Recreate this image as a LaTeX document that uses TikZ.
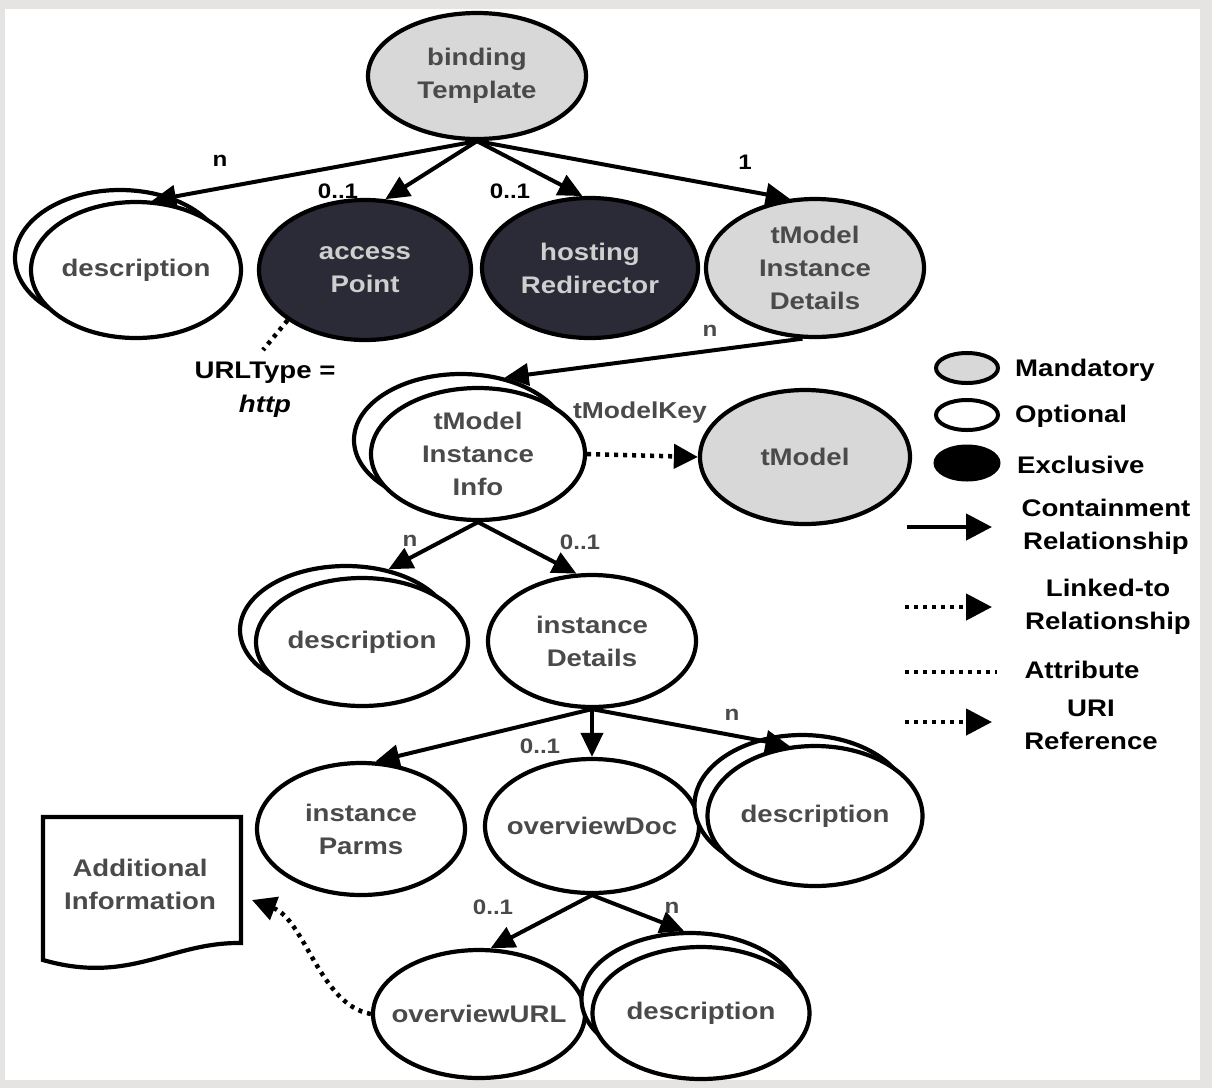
\documentclass[tikz,border=0pt]{standalone}
\usepackage{fontspec}
\setmainfont{Liberation Sans}[FakeStretch=1.15]
\usetikzlibrary{shapes.geometric,arrows.meta}
\definecolor{framegray}{HTML}{E6E4E2}
\definecolor{mandfill}{HTML}{D8D8D8}
\definecolor{exclfill}{HTML}{2B2B37}
\definecolor{txtgray}{HTML}{4A4A4A}
\definecolor{txtlight}{HTML}{CFCFCF}
\begin{document}
\begin{tikzpicture}[x=1pt,y=-1pt,
  el/.style={ellipse, draw=black, line width=4.2pt, inner xsep=-25pt, inner ysep=-5pt, align=center,
    font=\fontsize{24}{33}\selectfont\bfseries, text=txtgray},
  mand/.style={el, fill=mandfill},
  opt/.style={el, fill=white},
  excl/.style={el, fill=exclfill, text=txtlight},
  sz/.style 2 args={minimum width=#1pt, minimum height=#2pt},
  cont/.style={line width=4pt, -{Triangle[length=24pt,width=22pt]}},
  dotline/.style={line width=4.5pt, dash pattern=on 4pt off 5pt},
  link/.style={dotline, -{Triangle[length=24pt,width=24pt]}},
  lab/.style={font=\fontsize{21}{24}\selectfont\bfseries, text=black, inner sep=1pt},
  txt/.style={align=center, font=\fontsize{24}{33}\selectfont\bfseries, text=txtgray},
  leg/.style={align=center, font=\fontsize{24}{33}\selectfont\bfseries, text=black, inner sep=0pt}
]
% frame and canvas
\fill[framegray] (0,0) rectangle (1212,1088);
\fill[white] (5,9) rectangle (1200,1080);

% top level
\node[mand, sz={218}{126}] (bt) at (477,76) {binding\\Template};
\node[opt, sz={210}{136}] (d1b) at (120,258) {};
\node[opt, sz={210}{136}] (d1) at (136,270) {description};
\node[excl, sz={212}{140}] (ap) at (365,270) {access\\Point};
\node[excl, sz={216}{140}] (hr) at (590,268) {hosting\\Redirector};
\node[mand, sz={218}{138}] (tid) at (815,268) {tModel\\Instance\\Details};

% second level
\node[opt, sz={214}{132}] (tiib) at (461,440) {};
\node[opt, sz={214}{132}] (tii) at (478,454) {tModel\\Instance\\Info};
\node[mand, sz={210}{134}] (tm) at (805,457) {tModel};

% third level
\node[opt, sz={212}{128}] (d2b) at (346,630) {};
\node[opt, sz={212}{128}] (d2) at (362,642) {description};
\node[opt, sz={208}{132}] (idt) at (592,641) {instance\\Details};

% fourth level
\node[opt, sz={208}{132}] (ip) at (361,829) {instance\\Parms};
\node[opt, sz={214}{134}] (od) at (592,826) {overviewDoc};
\node[opt, sz={215}{140}] (d3b) at (802,805) {};
\node[opt, sz={215}{140}] (d3) at (815,816) {description};

% fifth level
\node[opt, sz={212}{128}] (ou) at (479,1014) {overviewURL};
\node[opt, sz={217}{132}] (d4b) at (690,999) {};
\node[opt, sz={217}{132}] (d4) at (701,1013) {description};

% additional information document
\draw[line width=4.2pt, fill=white] (43,817) -- (241,817) -- (241,943)
  .. controls (170,942) and (130,985) .. (43,960) -- cycle;
\node[txt] (ai) at (140,884) {Additional\\Information};
\coordinate (aie) at (252,900);

% URLType attribute
\node[leg, font=\fontsize{24}{34}\selectfont\bfseries] (ut) at (265,390) {URLType =\\\textit{http}};
\coordinate (ute) at (263,350);
\draw[dotline] (ap.213) -- (ute);

% containment arrows
\draw[cont] (bt.south) -- (d1.77);
\draw[cont] (bt.south) -- (ap.74);
\draw[cont] (bt.south) -- (hr.96);
\draw[cont] (bt.south) -- (tid.110);
\draw[cont] (tid.260) -- (tiib.55);
\draw[cont] (tii.south) -- (d2b.55);
\draw[cont] (tii.south) -- (idt.103);
\draw[cont] (idt.south) -- (ip.78);
\draw[cont] (idt.south) -- (od.north);
\draw[cont] (idt.south) -- (d3.110);
\draw[cont] (od.south) -- (ou.80);
\draw[cont] (od.south) -- (d4b.95);

% linked-to and URI reference
\draw[link] (tii.east) -- (tm.west);
\draw[link] (ou.west) .. controls (320,1005) and (305,920) .. (aie);

% multiplicity labels
\node[lab] (l1) at (220,161) {n};
\node[lab] (l2) at (338,191) {0..1};
\node[lab] (l3) at (510,191) {0..1};
\node[lab] (l4) at (745,162) {1};
\node[lab, text=txtgray] (l5) at (710,331) {n};
\node[lab, text=txtgray, font=\fontsize{23}{26}\selectfont\bfseries] (lk) at (640,413) {tModelKey};
\node[lab, text=txtgray] (l6) at (410,541) {n};
\node[lab, text=txtgray] (l7) at (580,542) {0..1};
\node[lab, text=txtgray] (l8) at (540,746) {0..1};
\node[lab, text=txtgray] (l9) at (732,715) {n};
\node[lab, text=txtgray] (l10) at (493,907) {0..1};
\node[lab, text=txtgray] (l11) at (672,908) {n};

% legend
\node[ellipse, draw=black, line width=4pt, fill=mandfill, minimum width=62pt, minimum height=30pt] (lm) at (967,368) {};
\node[ellipse, draw=black, line width=4pt, fill=white, minimum width=62pt, minimum height=30pt] (lo) at (967,415) {};
\node[ellipse, draw=black, line width=3pt, fill=black, minimum width=64pt, minimum height=34pt] (le) at (967,463) {};
\node[leg, anchor=west] (tmand) at (1015,370) {Mandatory};
\node[leg, anchor=west] (topt) at (1015,416) {Optional};
\node[leg, anchor=west] (texcl) at (1017,465) {Exclusive};

\coordinate (c1) at (907,527); \coordinate (c2) at (992,527);
\draw[line width=4.5pt, -{Triangle[length=26pt,width=26pt]}] (c1) -- (c2);
\node[leg] (tcont) at (1106,527) {Containment\\Relationship};

\coordinate (k1) at (905,607); \coordinate (k2) at (992,607);
\draw[dotline, -{Triangle[length=26pt,width=26pt]}] (k1) -- (k2);
\node[leg] (tlink) at (1108,607) {Linked-to\\Relationship};

\coordinate (a1) at (905,672); \coordinate (a2) at (997,672);
\draw[dotline] (a1) -- (a2);
\node[leg] (tattr) at (1082,670) {Attribute};

\coordinate (u1) at (905,722); \coordinate (u2) at (992,722);
\draw[dotline, -{Triangle[length=26pt,width=26pt]}] (u1) -- (u2);
\node[leg] (turi) at (1091,725) {URI\\Reference};
\end{tikzpicture}
\end{document}
